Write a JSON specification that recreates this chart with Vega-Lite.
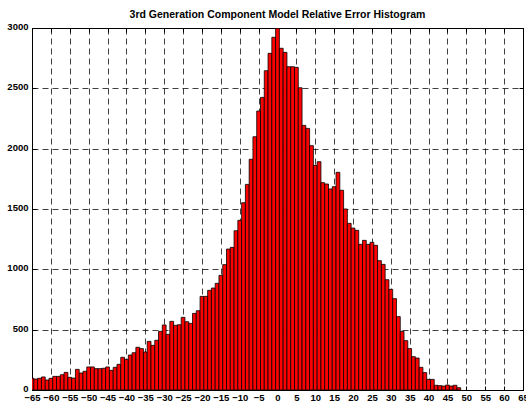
{
  "$schema": "https://vega.github.io/schema/vega-lite/v6.json",
  "width": 491,
  "height": 362,
  "autosize": "none",
  "padding": {"left": 32, "top": 28, "right": 3, "bottom": 11},
  "background": "white",
  "title": {
    "text": "3rd Generation Component Model Relative Error Histogram",
    "font": "Liberation Sans",
    "fontSize": 10.5,
    "fontWeight": "bold",
    "color": "black",
    "anchor": "middle",
    "baseline": "alphabetic",
    "offset": -7
  },
  "config": {
    "view": {"stroke": "black", "strokeWidth": 1},
    "axis": {
      "title": null,
      "domainColor": "black",
      "domainWidth": 1,
      "tickColor": "black",
      "tickWidth": 1,
      "tickSize": -4,
      "labelFont": "Liberation Sans",
      "labelFontWeight": "bold",
      "labelFontSize": 9.5,
      "labelColor": "black",
      "gridColor": "black",
      "gridDash": [6, 4],
      "gridOpacity": 0.75,
      "gridWidth": 1
    }
  },
  "data": {
    "values": [
      {"lo": -65.5, "hi": -64.5, "n": 97},
      {"lo": -64.5, "hi": -63.5, "n": 91},
      {"lo": -63.5, "hi": -62.5, "n": 97},
      {"lo": -62.5, "hi": -61.5, "n": 108},
      {"lo": -61.5, "hi": -60.5, "n": 83},
      {"lo": -60.5, "hi": -59.5, "n": 97},
      {"lo": -59.5, "hi": -58.5, "n": 113},
      {"lo": -58.5, "hi": -57.5, "n": 113},
      {"lo": -57.5, "hi": -56.5, "n": 127},
      {"lo": -56.5, "hi": -55.5, "n": 146},
      {"lo": -55.5, "hi": -54.5, "n": 105},
      {"lo": -54.5, "hi": -53.5, "n": 99},
      {"lo": -53.5, "hi": -52.5, "n": 171},
      {"lo": -52.5, "hi": -51.5, "n": 141},
      {"lo": -51.5, "hi": -50.5, "n": 155},
      {"lo": -50.5, "hi": -49.5, "n": 191},
      {"lo": -49.5, "hi": -48.5, "n": 191},
      {"lo": -48.5, "hi": -47.5, "n": 177},
      {"lo": -47.5, "hi": -46.5, "n": 177},
      {"lo": -46.5, "hi": -45.5, "n": 180},
      {"lo": -45.5, "hi": -44.5, "n": 191},
      {"lo": -44.5, "hi": -43.5, "n": 163},
      {"lo": -43.5, "hi": -42.5, "n": 188},
      {"lo": -42.5, "hi": -41.5, "n": 213},
      {"lo": -41.5, "hi": -40.5, "n": 271},
      {"lo": -40.5, "hi": -39.5, "n": 254},
      {"lo": -39.5, "hi": -38.5, "n": 290},
      {"lo": -38.5, "hi": -37.5, "n": 309},
      {"lo": -37.5, "hi": -36.5, "n": 354},
      {"lo": -36.5, "hi": -35.5, "n": 343},
      {"lo": -35.5, "hi": -34.5, "n": 315},
      {"lo": -34.5, "hi": -33.5, "n": 403},
      {"lo": -33.5, "hi": -32.5, "n": 370},
      {"lo": -32.5, "hi": -31.5, "n": 412},
      {"lo": -31.5, "hi": -30.5, "n": 486},
      {"lo": -30.5, "hi": -29.5, "n": 539},
      {"lo": -29.5, "hi": -28.5, "n": 461},
      {"lo": -28.5, "hi": -27.5, "n": 569},
      {"lo": -27.5, "hi": -26.5, "n": 536},
      {"lo": -26.5, "hi": -25.5, "n": 541},
      {"lo": -25.5, "hi": -24.5, "n": 602},
      {"lo": -24.5, "hi": -23.5, "n": 566},
      {"lo": -23.5, "hi": -22.5, "n": 552},
      {"lo": -22.5, "hi": -21.5, "n": 635},
      {"lo": -21.5, "hi": -20.5, "n": 657},
      {"lo": -20.5, "hi": -19.5, "n": 776},
      {"lo": -19.5, "hi": -18.5, "n": 776},
      {"lo": -18.5, "hi": -17.5, "n": 826},
      {"lo": -17.5, "hi": -16.5, "n": 845},
      {"lo": -16.5, "hi": -15.5, "n": 884},
      {"lo": -15.5, "hi": -14.5, "n": 950},
      {"lo": -14.5, "hi": -13.5, "n": 1039},
      {"lo": -13.5, "hi": -12.5, "n": 1168},
      {"lo": -12.5, "hi": -11.5, "n": 1182},
      {"lo": -11.5, "hi": -10.5, "n": 1320},
      {"lo": -10.5, "hi": -9.5, "n": 1406},
      {"lo": -9.5, "hi": -8.5, "n": 1552},
      {"lo": -8.5, "hi": -7.5, "n": 1704},
      {"lo": -7.5, "hi": -6.5, "n": 1912},
      {"lo": -6.5, "hi": -5.5, "n": 2099},
      {"lo": -5.5, "hi": -4.5, "n": 2312},
      {"lo": -4.5, "hi": -3.5, "n": 2425},
      {"lo": -3.5, "hi": -2.5, "n": 2646},
      {"lo": -2.5, "hi": -1.5, "n": 2790},
      {"lo": -1.5, "hi": -0.5, "n": 2923},
      {"lo": -0.5, "hi": 0.5, "n": 2997},
      {"lo": 0.5, "hi": 1.5, "n": 2832},
      {"lo": 1.5, "hi": 2.5, "n": 2798},
      {"lo": 2.5, "hi": 3.5, "n": 2679},
      {"lo": 3.5, "hi": 4.5, "n": 2679},
      {"lo": 4.5, "hi": 5.5, "n": 2674},
      {"lo": 5.5, "hi": 6.5, "n": 2505},
      {"lo": 6.5, "hi": 7.5, "n": 2193},
      {"lo": 7.5, "hi": 8.5, "n": 2168},
      {"lo": 8.5, "hi": 9.5, "n": 2025},
      {"lo": 9.5, "hi": 10.5, "n": 1862},
      {"lo": 10.5, "hi": 11.5, "n": 1892},
      {"lo": 11.5, "hi": 12.5, "n": 1718},
      {"lo": 12.5, "hi": 13.5, "n": 1707},
      {"lo": 13.5, "hi": 14.5, "n": 1666},
      {"lo": 14.5, "hi": 15.5, "n": 1685},
      {"lo": 15.5, "hi": 16.5, "n": 1804},
      {"lo": 16.5, "hi": 17.5, "n": 1655},
      {"lo": 17.5, "hi": 18.5, "n": 1500},
      {"lo": 18.5, "hi": 19.5, "n": 1381},
      {"lo": 19.5, "hi": 20.5, "n": 1342},
      {"lo": 20.5, "hi": 21.5, "n": 1323},
      {"lo": 21.5, "hi": 22.5, "n": 1207},
      {"lo": 22.5, "hi": 23.5, "n": 1240},
      {"lo": 23.5, "hi": 24.5, "n": 1207},
      {"lo": 24.5, "hi": 25.5, "n": 1224},
      {"lo": 25.5, "hi": 26.5, "n": 1199},
      {"lo": 26.5, "hi": 27.5, "n": 1072},
      {"lo": 27.5, "hi": 28.5, "n": 1041},
      {"lo": 28.5, "hi": 29.5, "n": 914},
      {"lo": 29.5, "hi": 30.5, "n": 834},
      {"lo": 30.5, "hi": 31.5, "n": 757},
      {"lo": 31.5, "hi": 32.5, "n": 608},
      {"lo": 32.5, "hi": 33.5, "n": 486},
      {"lo": 33.5, "hi": 34.5, "n": 409},
      {"lo": 34.5, "hi": 35.5, "n": 343},
      {"lo": 35.5, "hi": 36.5, "n": 276},
      {"lo": 36.5, "hi": 37.5, "n": 265},
      {"lo": 37.5, "hi": 38.5, "n": 188},
      {"lo": 38.5, "hi": 39.5, "n": 144},
      {"lo": 39.5, "hi": 40.5, "n": 88},
      {"lo": 40.5, "hi": 41.5, "n": 88},
      {"lo": 41.5, "hi": 42.5, "n": 39},
      {"lo": 42.5, "hi": 43.5, "n": 36},
      {"lo": 43.5, "hi": 44.5, "n": 33},
      {"lo": 44.5, "hi": 45.5, "n": 41},
      {"lo": 45.5, "hi": 46.5, "n": 33},
      {"lo": 46.5, "hi": 47.5, "n": 39},
      {"lo": 47.5, "hi": 48.5, "n": 19}
    ]
  },
  "layer": [
    {
      "mark": {"type": "bar", "fill": "#ff0000", "stroke": "black", "strokeWidth": 0.8, "clip": true},
      "encoding": {
        "x": {
          "field": "lo",
          "type": "quantitative",
          "scale": {"domain": [-65, 65], "nice": false, "zero": false},
          "axis": {
            "orient": "bottom",
            "grid": true,
            "values": [-65, -60, -55, -50, -45, -40, -35, -30, -25, -20, -15, -10, -5, 0, 5, 10, 15, 20, 25, 30, 35, 40, 45, 50, 55, 60, 65],
            "labelPadding": 6,
            "labelOverlap": false,
            "labelFlush": false
          }
        },
        "x2": {"field": "hi"},
        "y": {
          "field": "n",
          "type": "quantitative",
          "scale": {"domain": [0, 3000], "nice": false},
          "axis": {
            "orient": "left",
            "grid": true,
            "format": "d",
            "values": [0, 500, 1000, 1500, 2000, 2500, 3000],
            "labelPadding": 8,
            "labelOffset": -1.5,
            "labelOverlap": false,
            "labelFlush": false
          }
        },
        "y2": {"datum": 0}
      }
    },
    {
      "mark": {"type": "point", "opacity": 0},
      "encoding": {
        "x": {
          "field": "lo",
          "type": "quantitative",
          "scale": {"domain": [-65, 65], "nice": false, "zero": false},
          "axis": {
            "orient": "top",
            "grid": false,
            "labels": false,
            "values": [-65, -60, -55, -50, -45, -40, -35, -30, -25, -20, -15, -10, -5, 0, 5, 10, 15, 20, 25, 30, 35, 40, 45, 50, 55, 60, 65]
          }
        },
        "y": {
          "field": "n",
          "type": "quantitative",
          "scale": {"domain": [0, 3000], "nice": false},
          "axis": {
            "orient": "right",
            "grid": false,
            "labels": false,
            "values": [0, 500, 1000, 1500, 2000, 2500, 3000]
          }
        }
      }
    }
  ],
  "resolve": {"axis": {"x": "independent", "y": "independent"}}
}
